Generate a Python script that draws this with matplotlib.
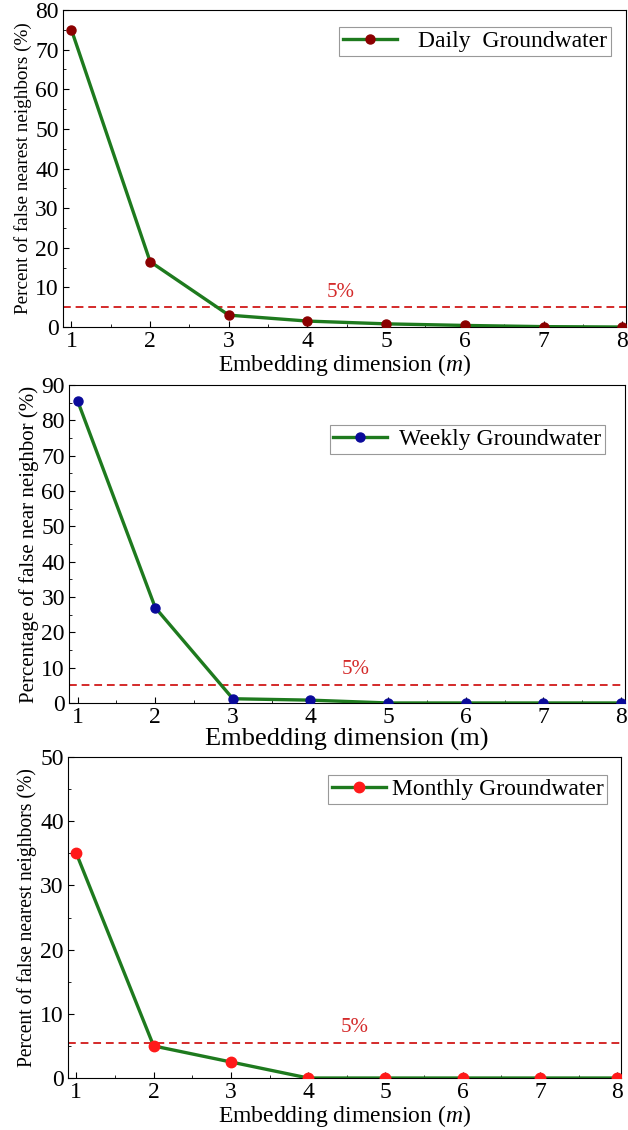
import matplotlib
matplotlib.use("Agg")
import matplotlib.pyplot as plt
from matplotlib.ticker import MultipleLocator

plt.rcParams['font.family'] = ['Liberation Serif', 'DejaVu Serif']
plt.rcParams['mathtext.fontset'] = 'custom'
plt.rcParams['mathtext.rm'] = 'Liberation Serif'
plt.rcParams['mathtext.it'] = 'Liberation Serif:italic'

# embedding dimension m
dims = [1, 2, 3, 4, 5, 6, 7, 8]

# percent of false nearest neighbours
daily = [75.0, 16.5, 3.0, 1.5, 0.8, 0.4, 0.1, 0.0]
weekly = [85.5, 27.0, 1.2, 0.8, 0.0, 0.0, 0.0, 0.0]
monthly = [35.0, 5.0, 2.5, 0.0, 0.0, 0.0, 0.0, 0.0]

thresholds = [5.0, 5.0, 5.5]
labels = ['Daily  Groundwater', 'Weekly Groundwater', 'Monthly Groundwater']
ylabels = ['Percent of false nearest neighbors (%)',
           'Percentage of false near neighbor (%)',
           'Percent of false nearest neighbors (%)']
xlabels = ['Embedding dimension ($m$)', 'Embedding dimension (m)',
           'Embedding dimension ($m$)']
ymaxes = [80, 90, 50]
marker_colors = ['#8b0000', '#0a0a9a', '#ff1a1a']

line_green = '#1e7a1e'
red = '#d42a2a'

fig = plt.figure(figsize=(6.28, 11.3), dpi=100)
boxes = [
    [0.100, 0.7106, 0.897, 0.2805],
    [0.110, 0.3779, 0.885, 0.2814],
    [0.108, 0.0460, 0.881, 0.2840],
]
ylab_size = [13.8, 15, 14.1]
xlab_size = [17, 19, 17]
text_x = [4.42, 4.58, 4.6]
text_gap = [1.2, 1.9, 0.9]
handle_pad = [0.9, 0.5, 0.25]
msizes = [6.5, 6.5, 7.5]
leg_anchor = [(0.973, 0.946), (0.964, 0.874), (0.975, 0.944)]
series = [daily, weekly, monthly]

for i in range(3):
    ax = fig.add_axes(boxes[i])
    ax.plot(dims, series[i], '-', color=line_green, lw=2.4, marker='o',
            ms=msizes[i], mfc=marker_colors[i], mec=marker_colors[i],
            label=labels[i], zorder=3)
    ax.axhline(thresholds[i], color=red, ls='--', lw=1.4, dashes=(4, 2.5),
               zorder=2)
    ax.text(text_x[i], thresholds[i] + text_gap[i], '5%', color=red,
            fontsize=15, ha='center', va='bottom')
    ax.set_xlim(0.89, 8.05)
    ax.set_ylim(0, ymaxes[i])
    ax.xaxis.set_major_locator(MultipleLocator(1))
    ax.xaxis.set_minor_locator(MultipleLocator(0.5))
    ax.yaxis.set_major_locator(MultipleLocator(10))
    ax.yaxis.set_minor_locator(MultipleLocator(5))
    ax.tick_params(which='both', direction='in', labelsize=17, pad=3)
    ax.tick_params(which='major', length=4)
    ax.tick_params(which='minor', length=2.5)
    ax.set_ylabel(ylabels[i], fontsize=ylab_size[i], labelpad=2)
    ax.set_xlabel(xlabels[i], fontsize=xlab_size[i], labelpad=0)
    leg = ax.legend(loc='upper right', bbox_to_anchor=leg_anchor[i],
                    fontsize=17, numpoints=1,
                    fancybox=False, framealpha=1, edgecolor='#999999',
                    borderpad=0.15, handlelength=2.3,
                    handletextpad=handle_pad[i], borderaxespad=0)
    leg.get_frame().set_linewidth(0.8)

fig.savefig('out.png', dpi=100)
